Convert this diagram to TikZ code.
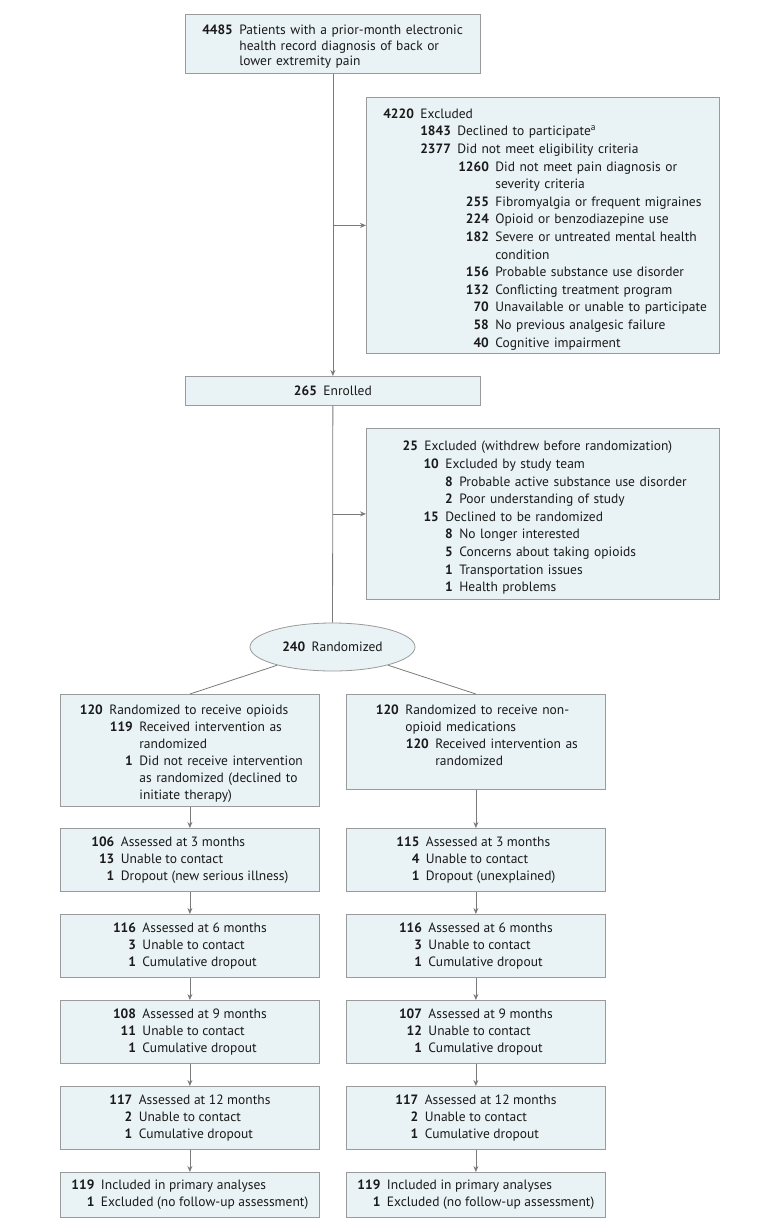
\documentclass[tikz,border=0pt]{standalone}
\usepackage{fontspec}
\setmainfont{PT Sans}
\usetikzlibrary{shapes.geometric,arrows.meta}
\definecolor{boxfill}{HTML}{E9F2F4}
\definecolor{boxline}{HTML}{9A9A9A}
\definecolor{linegray}{HTML}{7A7A7A}
\definecolor{txt}{HTML}{1A1A1A}
% one counted line: indent of the text, bold count, text
\newcommand{\numline}[3]{\par\leftskip=#1pt\relax\noindent\llap{\textbf{#2}\hspace{6.5pt}}#3\par}
\newcommand{\fsize}{\fontsize{13.5}{17}\selectfont}
\begin{document}
\begin{tikzpicture}[x=1pt,y=-1pt]
    % Define styles for boxes and connectors
    \tikzstyle{box} = [draw=boxline, fill=boxfill, rectangle, anchor=north west, inner sep=0pt, align=left, text=txt, font=\fsize, line width=0.8pt]
    \tikzstyle{exbox} = [box, font=\fontsize{13.5}{17.6}\selectfont]
    \tikzstyle{fubox} = [draw=boxline, fill=boxfill, rectangle, anchor=north west, inner sep=0pt, minimum width=259pt, text=txt, font=\fsize, line width=0.8pt]
    \tikzstyle{conn} = [draw=linegray, line width=0.8pt]
    \tikzstyle{connarr} = [conn, -{Stealth[length=6pt,width=5pt]}]

    \useasboundingbox (0,0) rectangle (780,1229);

    % Screening and enrollment
    \node(top)[box, text width=295pt, minimum height=59pt, font=\fontsize{13.5}{15.5}\selectfont] at (185,14) {%
      \numline{54}{4485}{Patients with a prior-month electronic\\health record diagnosis of back or\\lower extremity pain}};
    \node(ex1)[exbox, text width=353pt, minimum height=256pt] at (366,97) {%
      \numline{54}{4220}{Excluded}
      \numline{91}{1843}{Declined to participate\textsuperscript{a}}
      \numline{91}{2377}{Did not meet eligibility criteria}
      \numline{129}{1260}{Did not meet pain diagnosis or\\severity criteria}
      \numline{129}{255}{Fibromyalgia or frequent migraines}
      \numline{129}{224}{Opioid or benzodiazepine use}
      \numline{129}{182}{Severe or untreated mental health\\condition}
      \numline{129}{156}{Probable substance use disorder}
      \numline{129}{132}{Conflicting treatment program}
      \numline{129}{70}{Unavailable or unable to participate}
      \numline{129}{58}{No previous analgesic failure}
      \numline{129}{40}{Cognitive impairment}};
    \node(enr)[box, text width=295pt, minimum height=29pt, align=center] at (185,376) {\textbf{265}\hspace{6.5pt}Enrolled};
    \node(ex2)[exbox, text width=353pt, minimum height=171pt] at (366,428) {%
      \numline{58}{25}{Excluded (withdrew before randomization)}
      \numline{79}{10}{Excluded by study team}
      \numline{93}{8}{Probable active substance use disorder}
      \numline{93}{2}{Poor understanding of study}
      \numline{79}{15}{Declined to be randomized}
      \numline{93}{8}{No longer interested}
      \numline{93}{5}{Concerns about taking opioids}
      \numline{93}{1}{Transportation issues}
      \numline{93}{1}{Health problems}};

    % Randomization
    \node(rnd)[ellipse, draw=boxline, fill=boxfill, line width=0.8pt, minimum width=165pt, minimum height=48pt, inner sep=0pt, font=\fsize, text=txt] at (332.5,647) {\textbf{240}\hspace{6.5pt}Randomized};
    \node(opi)[box, text width=259pt, minimum height=112pt] at (60,694) {%
      \numline{49}{120}{Randomized to receive opioids}
      \numline{79}{119}{Received intervention as\\randomized}
      \numline{79}{1}{Did not receive intervention\\as randomized (declined to\\initiate therapy)}};
    \node(non)[box, text width=259pt, minimum height=95pt] at (346,694) {%
      \numline{59}{120}{Randomized to receive non-\\opioid medications}
      \numline{89}{120}{Received intervention as\\randomized}
      \vspace*{20pt}};

    % Follow-up
    \foreach \mon/\yy/\la/\lb/\lc/\ra/\rb/\rc in {
        3/828/106/13/{Dropout (new serious illness)}/115/4/{Dropout (unexplained)},
        6/914/116/3/{Cumulative dropout}/116/3/{Cumulative dropout},
        9/1000/108/11/{Cumulative dropout}/107/12/{Cumulative dropout},
        12/1086/117/2/{Cumulative dropout}/117/2/{Cumulative dropout}} {
      \node(l\mon)[fubox, minimum height=63pt] at (60,\yy) {\begin{tabular}{@{}r@{\hspace{6.5pt}}l@{}}
          \textbf{\la} & Assessed at \mon\ months\\ \textbf{\lb} & Unable to contact\\ \textbf{1} & \lc\end{tabular}};
      \node(r\mon)[fubox, minimum height=63pt] at (346,\yy) {\begin{tabular}{@{}r@{\hspace{6.5pt}}l@{}}
          \textbf{\ra} & Assessed at \mon\ months\\ \textbf{\rb} & Unable to contact\\ \textbf{1} & \rc\end{tabular}};
    }
    \node(lend)[fubox, minimum height=45pt] at (60,1172) {\begin{tabular}{@{}r@{\hspace{6.5pt}}l@{}}
        \textbf{119} & Included in primary analyses\\ \textbf{1} & Excluded (no follow-up assessment)\end{tabular}};
    \node(rend)[fubox, minimum height=45pt] at (346,1172) {\begin{tabular}{@{}r@{\hspace{6.5pt}}l@{}}
        \textbf{119} & Included in primary analyses\\ \textbf{1} & Excluded (no follow-up assessment)\end{tabular}};

    % Connectors
    \draw[connarr] (top) -- (enr);
    \draw[connarr] (ex1.west -| top.south) -- (ex1.west);
    \draw[conn] (enr) -- (rnd);
    \draw[connarr] (ex2.west -| enr.south) -- (ex2.west);
    \draw[conn] (rnd) -- (opi.north);
    \draw[conn] (rnd) -- (non.north);
    \foreach \a/\b in {opi/l3, l3/l6, l6/l9, l9/l12, l12/lend, non/r3, r3/r6, r6/r9, r9/r12, r12/rend}
      \draw[connarr] (\a) -- (\b);
\end{tikzpicture}
\end{document}
